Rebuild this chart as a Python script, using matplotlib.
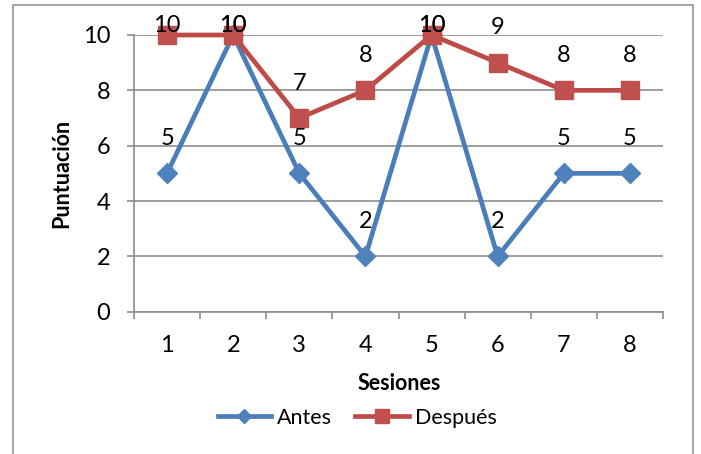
import matplotlib
matplotlib.use("Agg")
import matplotlib.pyplot as plt
from matplotlib.patches import Rectangle

# Data
sesiones = [1, 2, 3, 4, 5, 6, 7, 8]
antes = [5, 10, 5, 2, 10, 2, 5, 5]
despues = [10, 10, 7, 8, 10, 9, 8, 8]
y_ticks = [0, 2, 4, 6, 8, 10]

plt.rcParams['font.family'] = ['Lato', 'DejaVu Sans']

W, H, DPI = 701, 454, 100
fig = plt.figure(figsize=(W / DPI, H / DPI), dpi=DPI)
fig.patch.set_facecolor('white')

# Chart area border
fig.patches.append(Rectangle((12.5 / W, -0.1), (692.5 - 12.5) / W, 1.1 - 5.5 / H,
                             transform=fig.transFigure, fill=False,
                             edgecolor='#a6a6a6', linewidth=1.5))

left, right, top, bottom = 134, 663, 35, 311.7
ax = fig.add_axes([left / W, 1 - bottom / H, (right - left) / W, (bottom - top) / H])

grid_c = '#8c8c8c'
blue_line, blue_mark = '#4A7EBB', '#4F81BD'
red_line, red_mark = '#BE4B48', '#C0504D'
fs = 17

x = list(range(1, len(sesiones) + 1))
ax.plot(x, antes, color=blue_line, lw=3.4, marker='D', markersize=10,
        markerfacecolor=blue_mark, markeredgecolor=blue_mark, zorder=3, label='Antes',
        solid_joinstyle='round', clip_on=False)
ax.plot(x, despues, color=red_line, lw=3.4, marker='s', markersize=13.5,
        markerfacecolor=red_mark, markeredgecolor=red_mark, zorder=4, label='Después',
        solid_joinstyle='round', clip_on=False)

ymax = 10
for series in (antes, despues):
    for xi, v in zip(x, series):
        off = 6.5 if v >= ymax else 25
        ax.annotate(str(v), (xi, v), xytext=(0, off), textcoords='offset points',
                    ha='center', va='center', fontsize=fs, color='black', zorder=6,
                    annotation_clip=False)

ax.set_xlim(0.5, len(sesiones) + 0.5)
ax.set_ylim(0, 10)
ax.set_yticks(y_ticks)
ax.set_yticklabels([str(t) for t in y_ticks], fontsize=fs)
ax.set_xticks([i + 0.5 for i in range(0, len(sesiones) + 1)])
ax.set_xticklabels([])
ax.set_xticks(x, minor=True)
ax.set_xticklabels([str(s) for s in sesiones], minor=True, fontsize=fs)
ax.tick_params(axis='x', which='minor', length=0, pad=17)
ax.tick_params(axis='x', which='major', length=5, width=1.2, color=grid_c, direction='out')
ax.tick_params(axis='y', length=5, width=1.2, color=grid_c, direction='out', pad=12)

ax.yaxis.grid(True, color=grid_c, linewidth=1.2)
ax.set_axisbelow(True)
for s in ('top', 'right'):
    ax.spines[s].set_visible(False)
for s in ('left', 'bottom'):
    ax.spines[s].set_color(grid_c)
    ax.spines[s].set_linewidth(1.2)

fig.text(62 / W, 1 - 173 / H, 'Puntuación', rotation=90, ha='center', va='center',
         fontsize=15.5, fontweight='bold')
fig.text(399 / W, 1 - 390 / H, 'Sesiones', ha='center', va='baseline',
         fontsize=15.5, fontweight='bold')

leg = fig.legend(loc='center', bbox_to_anchor=(357 / W, 1 - 418 / H), ncol=2,
                 frameon=False, fontsize=15.5, handlelength=2.5, handletextpad=0.25,
                 columnspacing=1.1, markerscale=0.7)

fig.savefig('out.png', dpi=DPI)
